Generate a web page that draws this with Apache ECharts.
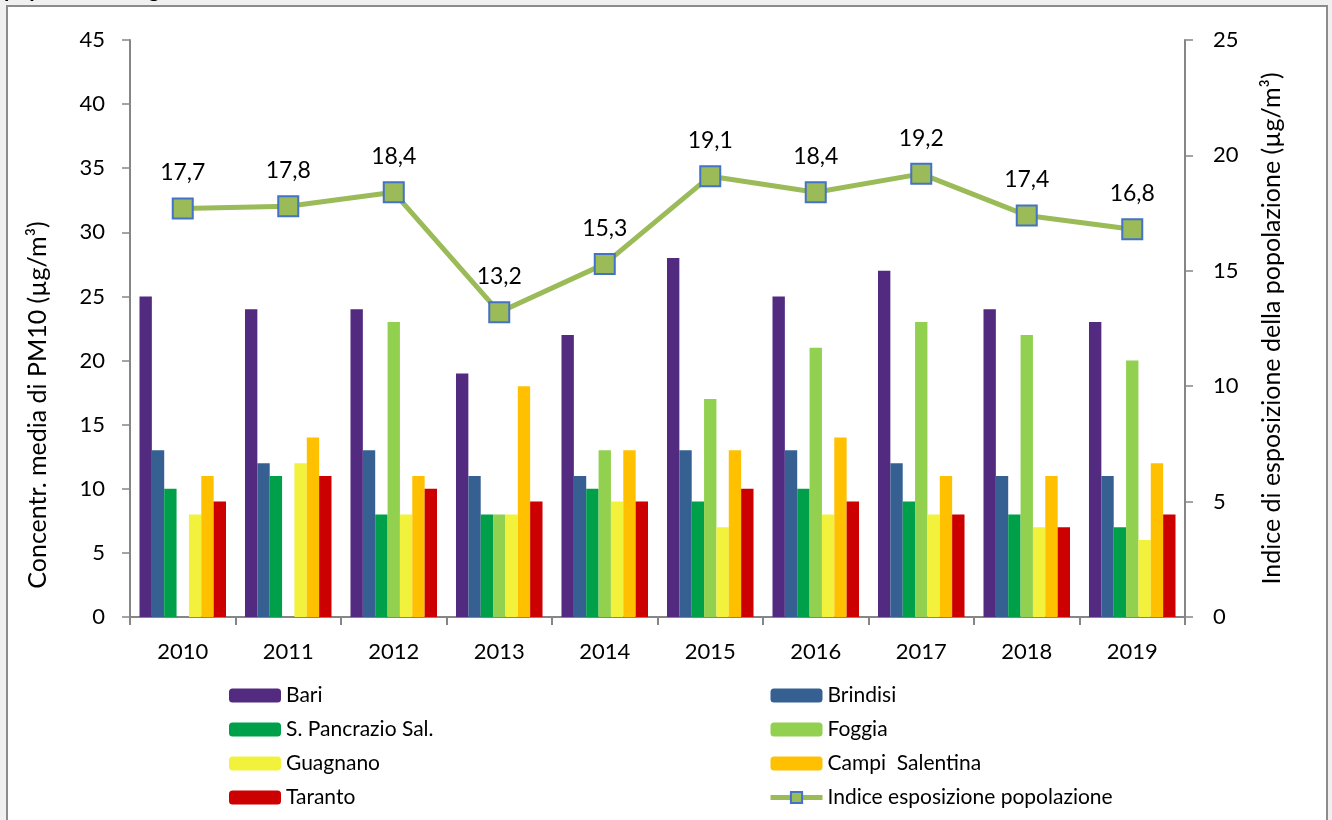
<!DOCTYPE html>
<html>
<head>
<meta charset="utf-8">
<script src="https://cdn.jsdelivr.net/npm/echarts@6/dist/echarts.min.js"></script>
<style>
html,body{margin:0;padding:0;background:#f0f0f0;}
#c{width:1332px;height:820px;}
</style>
</head>
<body>
<div id="c"></div>
<script>
const years = ['2010','2011','2012','2013','2014','2015','2016','2017','2018','2019'];
const bari = [25,24,24,19,22,28,25,27,24,23];
const brindisi = [13,12,13,11,11,13,13,12,11,11];
const sPancrazio = [10,11,8,8,10,9,10,9,8,7];
const foggia = [null,null,23,8,13,17,21,23,22,20];
const guagnano = [8,12,8,8,9,7,8,8,7,6];
const campi = [11,14,11,18,13,13,14,11,11,12];
const taranto = [9,11,10,9,9,10,9,8,7,8];
const indice = [17.7,17.8,18.4,13.2,15.3,19.1,18.4,19.2,17.4,16.8];
const leftTicks = [0,5,10,15,20,25,30,35,40,45];
const rightTicks = [0,5,10,15,20,25];

const FONT = 'Lato';
const chart = echarts.init(document.getElementById('c'));
const barSeries = [
  ['Bari', bari, '#522a80'],
  ['Brindisi', brindisi, '#366092'],
  ['S. Pancrazio Sal.', sPancrazio, '#00a04a'],
  ['Foggia', foggia, '#92d050'],
  ['Guagnano', guagnano, '#f2f23c'],
  ['Campi  Salentina', campi, '#ffc000'],
  ['Taranto', taranto, '#cc0000']
].map(([name, data, color]) => ({
  name, type: 'bar', data, yAxisIndex: 0,
  barGap: '0%', barCategoryGap: '18%',
  itemStyle: {color},
  emphasis: {disabled: true}
}));

const legendCommon = {
  orient: 'vertical', itemWidth: 52, itemHeight: 14, itemGap: 13,
  textStyle: {fontFamily: FONT, fontSize: 21, color: '#000'},
  selectedMode: false
};

chart.setOption({
  animation: false,
  backgroundColor: '#f0f0f0',
  textStyle: {fontFamily: FONT},
  graphic: [
    {type: 'rect', shape: {x: 7, y: 6, width: 1320, height: 830},
     style: {fill: '#ffffff', stroke: '#8c8c8c', lineWidth: 2}, z: -10},
    {type: 'text', left: 4, top: -21,
     style: {text: 'popolazione regionale', font: 'bold 22px Lato', fill: '#000'}, z: -20},
    {type: 'text', x: 38, y: 405, rotation: Math.PI / 2,
     style: {text: 'Concentr. media di PM10 (µg/m³)', font: '25px Lato', fill: '#000',
       align: 'center', verticalAlign: 'middle'}}
  ],
  grid: {left: 130, right: 147, top: 40, bottom: 203},
  legend: [
    Object.assign({left: 224, top: 680, data: ['Bari', 'S. Pancrazio Sal.', 'Guagnano', 'Taranto']}, legendCommon),
    Object.assign({left: 763, top: 680, data: ['Brindisi', 'Foggia', 'Campi  Salentina',
      {name: 'Indice esposizione popolazione', lineStyle: {width: 5, color: '#9bbb59'}}]}, legendCommon)
  ],
  xAxis: {
    type: 'category', data: years,
    axisLine: {lineStyle: {color: '#868686', width: 2}},
    axisTick: {show: true, length: 8, lineStyle: {color: '#868686', width: 2}},
    axisLabel: {fontFamily: FONT, fontSize: 22, color: '#000', margin: 24}
  },
  yAxis: [
    {
      type: 'value', min: leftTicks[0], max: leftTicks[leftTicks.length - 1], interval: 5,
      axisLine: {show: true, lineStyle: {color: '#868686', width: 2}},
      axisTick: {show: true, length: 8, lineStyle: {color: '#868686', width: 1.5}},
      axisLabel: {fontFamily: FONT, fontSize: 22, color: '#000', margin: 25},
      splitLine: {show: false}
    },
    {
      type: 'value', min: rightTicks[0], max: rightTicks[rightTicks.length - 1], interval: 5,
      name: 'Indice di esposizione della popolazione (µg/m³)', nameLocation: 'middle', nameGap: 74,
      nameRotate: 90,
      nameTextStyle: {fontFamily: FONT, fontSize: 25, color: '#000'},
      axisLine: {show: true, lineStyle: {color: '#868686', width: 2}},
      axisTick: {show: true, length: 8, lineStyle: {color: '#868686', width: 1.5}},
      axisLabel: {fontFamily: FONT, fontSize: 22, color: '#000', margin: 28},
      splitLine: {show: false}
    }
  ],
  series: barSeries.concat([{
    name: 'Indice esposizione popolazione', type: 'line', yAxisIndex: 1, data: indice,
    lineStyle: {color: '#9bbb59', width: 5},
    itemStyle: {color: '#9bbb59', borderColor: '#4472c4', borderWidth: 2},
    symbol: 'rect', symbolSize: 20,
    label: {show: true, position: 'top', distance: 13, fontFamily: FONT, fontSize: 23, color: '#000',
      formatter: p => String(p.value).replace('.', ',')},
    z: 10,
    emphasis: {disabled: true}
  }])
});
</script>
</body>
</html>
